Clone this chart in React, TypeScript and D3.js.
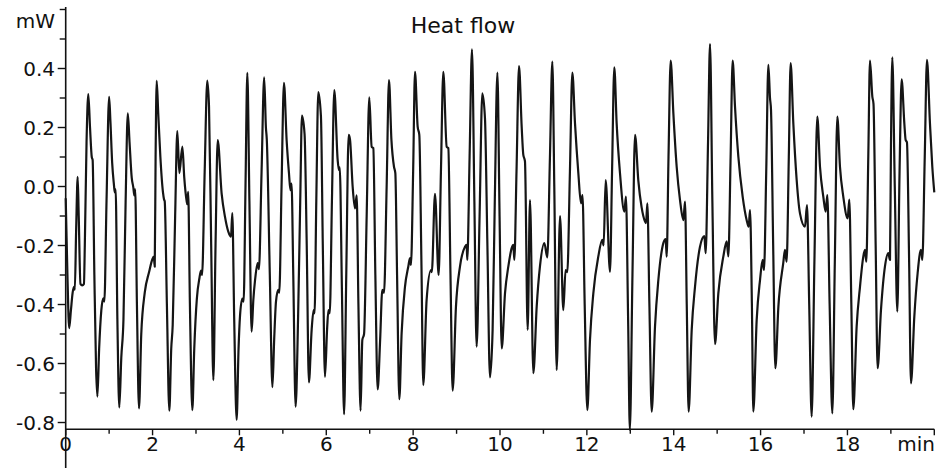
import React, { useRef, useEffect } from 'react';
import { select, scaleLinear, line, curveMonotoneX, range } from 'd3';

// heat flow trace (time in min, value in mW)
const timeMin = [
  0.0, 0.04, 0.08, 0.12, 0.16, 0.19, 0.21, 0.24, 0.276, 0.3,
  0.34, 0.38, 0.42, 0.44, 0.48, 0.52, 0.56, 0.6, 0.62, 0.66,
  0.7, 0.73, 0.77, 0.82, 0.866, 0.89, 0.94, 1.0, 1.03, 1.07,
  1.11, 1.13, 1.15, 1.19, 1.234, 1.28, 1.33, 1.38, 1.43, 1.47,
  1.52, 1.557, 1.58, 1.6, 1.64, 1.688, 1.74, 1.82, 1.92, 2.0,
  2.03, 2.05, 2.07, 2.095, 2.13, 2.18, 2.24, 2.263, 2.28, 2.33,
  2.386, 2.43, 2.464, 2.52, 2.57, 2.617, 2.686, 2.73, 2.785, 2.8,
  2.82, 2.86, 2.916, 2.96, 3.02, 3.08, 3.115, 3.14, 3.2, 3.26,
  3.3, 3.35, 3.4, 3.45, 3.5, 3.59, 3.667, 3.744, 3.806, 3.836,
  3.88, 3.936, 3.98, 4.013, 4.067, 4.097, 4.14, 4.182, 4.23, 4.281,
  4.32, 4.358, 4.42, 4.45, 4.51, 4.57, 4.61, 4.63, 4.7, 4.76,
  4.8, 4.842, 4.895, 4.918, 4.97, 5.026, 5.087, 5.141, 5.175, 5.2,
  5.24, 5.294, 5.35, 5.4, 5.44, 5.5, 5.55, 5.6, 5.663, 5.709,
  5.73, 5.77, 5.816, 5.877, 5.92, 5.97, 6.02, 6.05, 6.08, 6.13,
  6.185, 6.262, 6.292, 6.31, 6.36, 6.41, 6.46, 6.515, 6.546, 6.607,
  6.661, 6.7, 6.74, 6.79, 6.83, 6.87, 6.93, 6.99, 7.045, 7.083,
  7.13, 7.183, 7.24, 7.29, 7.33, 7.39, 7.444, 7.5, 7.559, 7.59,
  7.63, 7.682, 7.735, 7.812, 7.889, 7.927, 7.95, 8.0, 8.043, 8.104,
  8.142, 8.19, 8.234, 8.31, 8.411, 8.43, 8.503, 8.587, 8.64, 8.695,
  8.772, 8.81, 8.86, 8.91, 8.986, 9.079, 9.194, 9.232, 9.247, 9.3,
  9.355, 9.41, 9.462, 9.53, 9.593, 9.654, 9.71, 9.769, 9.83, 9.88,
  9.94, 9.99, 10.04, 10.115, 10.192, 10.269, 10.307, 10.33, 10.38, 10.438,
  10.499, 10.537, 10.56, 10.575, 10.637, 10.691, 10.768, 10.845, 10.92, 11.02,
  11.09, 11.15, 11.205, 11.25, 11.305, 11.382, 11.458, 11.51, 11.55, 11.61,
  11.666, 11.727, 11.804, 11.865, 11.9, 11.95, 12.011, 12.072, 12.149, 12.264,
  12.356, 12.386, 12.433, 12.533, 12.58, 12.632, 12.686, 12.763, 12.863, 12.9,
  12.95, 12.99, 13.05, 13.109, 13.185, 13.26, 13.3, 13.362, 13.393, 13.44,
  13.493, 13.569, 13.646, 13.761, 13.815, 13.838, 13.88, 13.93, 13.992, 14.068,
  14.145, 14.222, 14.26, 14.3, 14.344, 14.414, 14.49, 14.605, 14.705, 14.736,
  14.79, 14.836, 14.89, 14.951, 15.027, 15.143, 15.22, 15.258, 15.31, 15.357,
  15.411, 15.488, 15.588, 15.68, 15.726, 15.757, 15.8, 15.833, 15.91, 15.987,
  16.048, 16.079, 16.13, 16.179, 16.217, 16.24, 16.29, 16.34, 16.41, 16.522,
  16.562, 16.6, 16.65, 16.692, 16.754, 16.831, 16.907, 17.022, 17.069, 17.12,
  17.176, 17.24, 17.306, 17.368, 17.445, 17.498, 17.537, 17.59, 17.652, 17.71,
  17.767, 17.828, 17.905, 18.005, 18.043, 18.09, 18.135, 18.212, 18.289, 18.366,
  18.404, 18.435, 18.48, 18.519, 18.573, 18.6, 18.65, 18.695, 18.772, 18.864,
  18.941, 18.98, 19.0, 19.033, 19.09, 19.148, 19.2, 19.248, 19.31, 19.34,
  19.37, 19.42, 19.463, 19.54, 19.616, 19.693, 19.724, 19.78, 19.831, 19.9,
  19.954, 20.0,
];

const heatFlowMw = [
  -0.04, -0.3, -0.48, -0.42, -0.36, -0.34, -0.35, -0.15, 0.033, -0.1,
  -0.33, -0.335, -0.33, -0.2, 0.15, 0.313, 0.2, 0.1, 0.09, -0.3,
  -0.62, -0.712, -0.55, -0.42, -0.379, -0.39, -0.05, 0.304, 0.22, 0.08,
  0.007, -0.02, -0.01, -0.45, -0.749, -0.58, -0.45, -0.05, 0.248, 0.15,
  0.03, -0.003, -0.03, -0.01, -0.4, -0.752, -0.5, -0.36, -0.29, -0.245,
  -0.238, -0.272, 0.1, 0.358, 0.25, 0.1, -0.02, -0.043, -0.05, -0.4,
  -0.76, -0.55, -0.469, -0.1, 0.188, 0.045, 0.135, 0.03, -0.049, -0.06,
  -0.018, -0.4, -0.758, -0.55, -0.38, -0.31, -0.285, -0.3, 0.05, 0.359,
  0.27, -0.2, -0.656, -0.2, 0.157, -0.023, -0.102, -0.153, -0.17, -0.09,
  -0.45, -0.791, -0.55, -0.44, -0.38, -0.39, 0.0, 0.385, -0.05, -0.492,
  -0.385, -0.32, -0.26, -0.28, 0.05, 0.37, 0.2, 0.16, -0.3, -0.68,
  -0.52, -0.39, -0.35, -0.36, 0.0, 0.351, 0.157, 0.045, -0.012, 0.01,
  -0.3, -0.746, -0.45, -0.05, 0.24, 0.178, -0.2, -0.664, -0.486, -0.419,
  -0.43, -0.05, 0.32, 0.238, -0.2, -0.645, -0.48, -0.419, -0.43, -0.05,
  0.327, 0.09, 0.056, 0.065, -0.35, -0.772, -0.3, 0.175, 0.16, 0.0,
  -0.074, -0.03, -0.4, -0.76, -0.52, -0.5, -0.1, 0.302, 0.135, 0.13,
  -0.3, -0.688, -0.52, -0.35, -0.36, 0.0, 0.361, 0.158, 0.067, 0.045,
  -0.3, -0.721, -0.497, -0.34, -0.271, -0.243, -0.266, 0.05, 0.389, 0.203,
  0.175, -0.25, -0.673, -0.385, -0.283, -0.29, -0.025, -0.3, 0.05, 0.389,
  0.135, 0.13, -0.3, -0.692, -0.407, -0.271, -0.204, -0.198, -0.249, 0.1,
  0.465, -0.05, -0.543, -0.1, 0.316, 0.231, -0.2, -0.647, -0.486, -0.05,
  0.386, -0.1, -0.549, -0.362, -0.271, -0.209, -0.198, -0.249, 0.05, 0.408,
  0.203, 0.107, 0.095, 0.085, -0.486, -0.046, -0.633, -0.407, -0.271, -0.192,
  -0.24, 0.1, 0.423, 0.0, -0.622, -0.1, -0.419, -0.283, -0.29, 0.05,
  0.386, 0.214, 0.045, -0.057, -0.029, -0.4, -0.758, -0.52, -0.362, -0.237,
  -0.181, -0.2, 0.022, -0.289, 0.05, 0.404, 0.214, 0.045, -0.085, -0.034,
  -0.45, -0.825, -0.3, 0.175, 0.02, -0.07, -0.1, -0.124, -0.057, -0.4,
  -0.763, -0.475, -0.317, -0.192, -0.178, -0.238, 0.1, 0.427, 0.248, 0.067,
  -0.046, -0.114, -0.051, -0.4, -0.763, -0.486, -0.34, -0.204, -0.168, -0.226,
  0.15, 0.483, -0.05, -0.534, -0.362, -0.237, -0.186, -0.237, 0.1, 0.427,
  0.271, 0.101, -0.035, -0.114, -0.136, -0.08, -0.4, -0.763, -0.453, -0.317,
  -0.249, -0.283, 0.05, 0.412, 0.3, 0.26, -0.2, -0.616, -0.407, -0.26,
  -0.215, -0.255, 0.1, 0.418, 0.214, 0.022, -0.091, -0.136, -0.063, -0.4,
  -0.78, -0.25, 0.237, 0.067, -0.035, -0.085, -0.029, -0.4, -0.769, -0.25,
  0.237, 0.067, -0.035, -0.108, -0.044, -0.4, -0.755, -0.475, -0.34, -0.237,
  -0.215, -0.255, 0.1, 0.427, 0.305, 0.28, -0.2, -0.616, -0.419, -0.271,
  -0.226, -0.249, 0.1, 0.438, 0.0, -0.424, 0.05, 0.363, 0.214, 0.158,
  0.15, -0.25, -0.667, -0.441, -0.294, -0.215, -0.249, 0.1, 0.429, 0.214,
  0.067, -0.02,
];

const xTickValues = range(0, 21, 1);
const xLabelValues = [0, 2, 4, 6, 8, 10, 12, 14, 16, 18];
const yTickValues = [-0.8, -0.7, -0.6, -0.5, -0.4, -0.3, -0.2, -0.1, 0, 0.1, 0.2, 0.3, 0.4, 0.5, 0.6];
const yLabelValues = [-0.8, -0.6, -0.4, -0.2, 0, 0.2, 0.4];
const yLabels = ['-0.8', '-0.6', '-0.4', '-0.2', '0.0', '0.2', '0.4'];

const WIDTH = 940;
const HEIGHT = 468;
const FONT = '"DejaVu Sans", Verdana, sans-serif';

function HeatFlowChart() {
  const svgRef = useRef<SVGSVGElement>(null);

  useEffect(() => {
    const svg = select(svgRef.current);
    svg.selectAll('*').remove();

    const xScale = scaleLinear().domain([0, 20]).range([65.7, 934.3]);
    const yScale = scaleLinear().domain([-0.823, 0.6]).range([429.3, 9.5]);
    const x0 = xScale(0);
    const yBase = yScale(-0.823);

    // title
    svg
      .append('text')
      .attr('x', 463)
      .attr('y', 33)
      .attr('text-anchor', 'middle')
      .attr('font-size', 22)
      .attr('font-family', FONT)
      .attr('fill', '#111')
      .text('Heat flow');

    // y axis
    svg
      .append('line')
      .attr('x1', x0)
      .attr('x2', x0)
      .attr('y1', 7)
      .attr('y2', HEIGHT)
      .attr('stroke', '#111')
      .attr('stroke-width', 1.6);

    svg
      .selectAll('.y-tick')
      .data(yTickValues)
      .join('line')
      .attr('class', 'y-tick')
      .attr('x1', (d) => x0 - (yLabelValues.includes(d) ? 8 : 6))
      .attr('x2', x0)
      .attr('y1', (d) => yScale(d))
      .attr('y2', (d) => yScale(d))
      .attr('stroke', '#111')
      .attr('stroke-width', 1.4);

    svg
      .selectAll('.y-label')
      .data(yLabelValues)
      .join('text')
      .attr('class', 'y-label')
      .attr('x', 55)
      .attr('y', (d) => yScale(d))
      .attr('dy', '0.36em')
      .attr('text-anchor', 'end')
      .attr('font-size', 20)
      .attr('font-family', FONT)
      .attr('fill', '#111')
      .text((d, i) => yLabels[i]);

    svg
      .append('text')
      .attr('x', 55)
      .attr('y', 28)
      .attr('text-anchor', 'end')
      .attr('font-size', 20)
      .attr('font-family', FONT)
      .attr('fill', '#111')
      .text('mW');

    // x axis
    svg
      .append('line')
      .attr('x1', x0)
      .attr('x2', xScale(20))
      .attr('y1', yBase)
      .attr('y2', yBase)
      .attr('stroke', '#111')
      .attr('stroke-width', 1.6);

    svg
      .selectAll('.x-tick')
      .data(xTickValues)
      .join('line')
      .attr('class', 'x-tick')
      .attr('x1', (d) => xScale(d))
      .attr('x2', (d) => xScale(d))
      .attr('y1', yBase)
      .attr('y2', (d) => yBase + (d % 2 === 0 ? 6 : 4.5))
      .attr('stroke', '#111')
      .attr('stroke-width', 1.4);

    svg
      .selectAll('.x-label')
      .data(xLabelValues)
      .join('text')
      .attr('class', 'x-label')
      .attr('x', (d) => xScale(d))
      .attr('y', 451)
      .attr('text-anchor', 'middle')
      .attr('font-size', 20)
      .attr('font-family', FONT)
      .attr('fill', '#111')
      .text((d) => String(d));

    svg
      .append('text')
      .attr('x', 935)
      .attr('y', 451)
      .attr('text-anchor', 'end')
      .attr('font-size', 20)
      .attr('font-family', FONT)
      .attr('fill', '#111')
      .text('min');

    // the trace
    const points = timeMin.map((t, i) => [t, heatFlowMw[i]] as [number, number]);
    const path = line<[number, number]>()
      .x((d) => xScale(d[0]))
      .y((d) => yScale(d[1]))
      .curve(curveMonotoneX);

    svg
      .append('path')
      .datum(points)
      .attr('d', path)
      .attr('fill', 'none')
      .attr('stroke', '#151515')
      .attr('stroke-width', 2.2)
      .attr('stroke-linejoin', 'round');
  }, []);

  return (
    <svg
      ref={svgRef}
      width={WIDTH}
      height={HEIGHT}
      style={{ position: 'absolute', left: 0, top: 0, background: '#fff' }}
    />
  );
}

export default function App() {
  return <HeatFlowChart />;
}
